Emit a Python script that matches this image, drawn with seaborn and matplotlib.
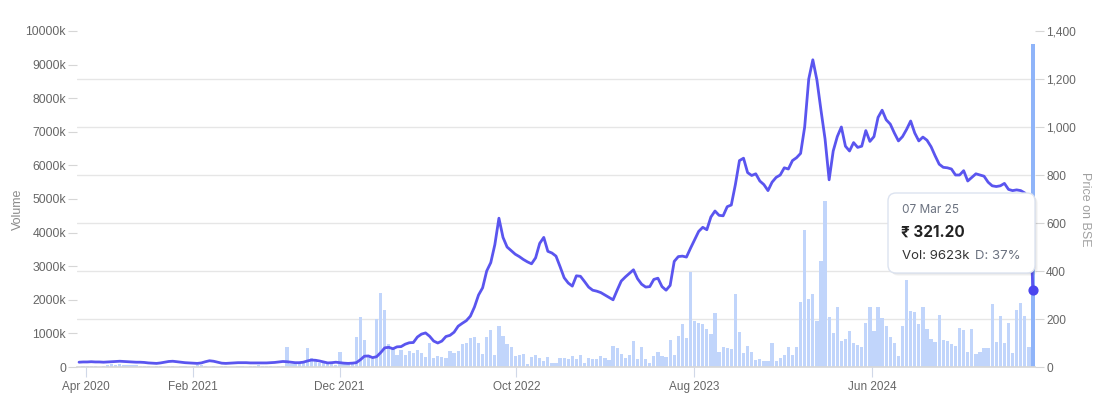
import numpy as np
import pandas as pd
import seaborn as sns
import matplotlib.pyplot as plt
from matplotlib.patches import FancyBboxPatch
from matplotlib.ticker import FuncFormatter
from matplotlib.transforms import IdentityTransform

# Weekly traded volume (thousands of shares), oldest first
volume = [
    10, 20, 30, 15, 20, 10, 25, 60, 80, 70,
    90, 50, 60, 60, 60, 40, 30, 20, 10, 15,
    20, 10, 30, 20, 10, 15, 20, 10, 20, 60,
    50, 20, 10, 15, 10, 20, 15, 10, 10, 20,
    15, 10, 20, 30, 50, 30, 40, 20, 10, 15,
    30, 605, 100, 90, 120, 140, 556, 270, 200, 130,
    170, 110, 90, 60, 437, 90, 150, 110, 884, 1479,
    804, 300, 250, 1420, 2193, 1696, 685,
    575, 357, 506, 357, 476, 407, 506, 407, 307, 704,
    258, 327, 307, 278, 476, 407, 476, 685, 724, 853,
    903, 704, 387, 903, 1101, 357, 1220, 923, 685, 605,
    327, 357, 387, 89, 307, 357, 278, 179, 307, 129,
    129, 258, 258, 238, 327, 238, 357, 129, 258, 238,
    238, 327, 258, 208, 635, 556, 377, 258, 357, 774,
    238, 585, 238, 129, 327, 446, 327, 288, 804, 357,
    933, 1280, 873, 2817, 1369, 1300, 1280, 1131, 972, 1597,
    456, 585, 556, 536, 2173, 1052, 407, 625, 437, 208,
    238, 179, 179, 724, 188, 278, 357, 605, 357, 605,
    1944, 4077, 2024, 2173, 1379, 3155, 4940, 1498, 1002, 1776,
    774, 833, 1071, 724, 655, 585, 1300, 1796, 1071, 1796,
    1448, 1230, 903, 724, 337, 1230, 2589, 1667, 1647, 1280,
    1796, 1121, 833, 754, 1548, 804, 784, 675, 625, 1171,
    1101, 456, 1121, 377, 437, 556, 556, 1865, 754, 1518,
    704, 1300, 407, 1697, 1915, 1518, 585,
    9623,
]

# Price on BSE (Rs) for the same weeks
price = [
    20, 21, 21, 22, 21, 21, 20, 21, 22, 23,
    24, 23, 22, 21, 20, 20, 19, 17, 16, 15,
    17, 20, 23, 24, 22, 20, 18, 17, 16, 15,
    17, 22, 26, 24, 20, 16, 15, 16, 17, 18,
    18, 18, 17, 17, 17, 17, 17, 18, 19, 21,
    23, 22, 20, 18, 18, 20, 25, 29, 28, 25,
    21, 17, 18, 20, 18, 16, 15, 16, 18, 30,
    45, 46, 39, 43, 60, 80, 82, 76, 84, 85,
    95, 101, 102, 125, 137, 142, 128, 108, 100, 108,
    127, 132, 145, 170, 182, 193, 212, 250, 300, 330,
    400, 435, 510, 620, 540, 500, 485, 470, 460, 448,
    438, 430, 455, 515, 540, 482, 475, 462, 418, 372,
    350, 337, 380, 378, 356, 333, 320, 316, 310, 300,
    290, 280, 320, 358, 375, 390, 405, 368, 345, 333,
    335, 365, 370, 335, 320, 340, 440, 460, 462, 458,
    495, 530, 565, 582, 572, 625, 650, 632, 630, 668,
    675, 760, 860, 870, 810, 798, 805, 775, 760, 735,
    770, 790, 800, 830, 825, 860, 872, 890, 1000, 1200,
    1280, 1196, 1070, 950, 780, 900, 960, 1000, 920, 900,
    935, 915, 920, 985, 940, 960, 1040, 1070, 1030, 1012,
    975, 942, 960, 990, 1025, 975, 942, 958, 945, 918,
    880, 845, 832, 830, 825, 800, 800, 818, 775, 790,
    805, 800, 795, 770, 755, 752, 755, 765, 740, 735,
    738, 735, 725, 700, 321.2,
]

tick_pos = [1.7, 27.9, 63.9, 107.3, 150.9, 194.6]
tick_labels = ["Apr 2020", "Feb 2021", "Dec 2021", "Oct 2022", "Aug 2023", "Jun 2024"]
last_date = "07 Mar 25"
last_delivery = 37

sns.set_theme(style="white")
plt.rcParams["font.family"] = ["Liberation Sans", "DejaVu Sans"]

W, H = 1110, 407
fig = plt.figure(figsize=(W / 100, H / 100), dpi=100)
ax = fig.add_axes([77 / W, 40 / H, 958 / W, 336 / H])

# volume bars
vol_df = pd.DataFrame({"week": np.arange(len(volume)), "vol": volume})
sns.barplot(data=vol_df, x="week", y="vol", native_scale=True, color="#c1d5fb",
            saturation=1, width=0.8, linewidth=0, ax=ax)
ax.patches[-1].set_facecolor("#8fb4f9")

ax.set_xlim(-0.5, len(volume) - 0.5)
ax.set_ylim(0, 10000)
ax.set_yticks(range(0, 10001, 1000))
ax.yaxis.set_major_formatter(FuncFormatter(lambda v, p: "0" if v == 0 else f"{v:.0f}k"))
# grid follows the price axis ticks
ax.set_yticks(np.arange(0, 1401, 200) * 10000 / 1400, minor=True)
ax.grid(which="minor", axis="y", color="#e6e6e6", lw=1)
ax.set_axisbelow(True)
ax.tick_params(axis="y", which="minor", length=0)
ax.tick_params(axis="y", which="major", length=6.5, width=0.8, color="#d6d6d6",
               labelcolor="#666666", labelsize=8.8, pad=1.5, left=True)
ax.set_xticks(tick_pos, tick_labels)
ax.tick_params(axis="x", length=7, width=0.8, color="#d0d8e8",
               labelcolor="#666666", labelsize=8.5, pad=3, bottom=True)
for s in ["top", "left", "right"]:
    ax.spines[s].set_visible(False)
ax.spines["bottom"].set_color("#d8d8d8")
ax.set_xlabel("")
ax.set_ylabel("Volume", color="#8a8a8a", fontsize=9, va="center")
ax.yaxis.set_label_coords(-0.0616, 0.47)

# price line
ax2 = ax.twinx()
sns.lineplot(x=np.arange(len(price)), y=price, color="#5a55ef", lw=2, ax=ax2,
             solid_joinstyle="round", solid_capstyle="round")
ax2.scatter([len(price) - 1], [price[-1]], s=40, color="#4a45ee", zorder=5, clip_on=False)
ax2.set_xlim(-0.5, len(volume) - 0.5)
ax2.set_ylim(0, 1400)
ax2.set_yticks(range(0, 1401, 200))
ax2.yaxis.set_major_formatter(FuncFormatter(lambda v, p: f"{v:,.0f}"))
ax2.tick_params(axis="y", length=6.5, width=0.8, color="#d6d6d6",
                labelcolor="#666666", labelsize=8.6, pad=1.5, right=True)
for s in ax2.spines.values():
    s.set_visible(False)
ax2.set_ylabel("Price on BSE", color="#a0a0a0", fontsize=9, rotation=270, va="center")
ax2.yaxis.set_label_coords(1.0526, 0.47)

# tooltip for the last point
bx, by, bw, bh = 888, H - 273, 147, 80
for off, a in [(3, 0.03), (2, 0.04), (1, 0.05)]:
    fig.add_artist(FancyBboxPatch((bx + off, by - off), bw, bh,
                                  boxstyle="round,pad=0,rounding_size=8",
                                  transform=IdentityTransform(),
                                  fc="black", ec="none", alpha=a))
fig.add_artist(FancyBboxPatch((bx, by), bw, bh, boxstyle="round,pad=0,rounding_size=8",
                              transform=IdentityTransform(), fc="white", ec="#dce3f0", lw=1))
tip_font = ["Inter", "DejaVu Sans"]
fig.text(902 / W, 1 - 210 / H, last_date, color="#6b7280", fontsize=8.5,
         family=tip_font, va="center")
fig.text(901 / W, 1 - 232 / H, f"₹ {price[-1]:.2f}", color="#222222", fontsize=11,
         fontweight="bold", family=tip_font, va="center")
fig.text(902 / W, 1 - 256 / H, f"Vol: {volume[-1]}k", color="#333333", fontsize=9.5,
         family=tip_font, va="center")
fig.text(975 / W, 1 - 256 / H, f"D: {last_delivery}%", color="#6b7280", fontsize=9.5,
         family=tip_font, va="center")

fig.savefig("out.png", dpi=100)
